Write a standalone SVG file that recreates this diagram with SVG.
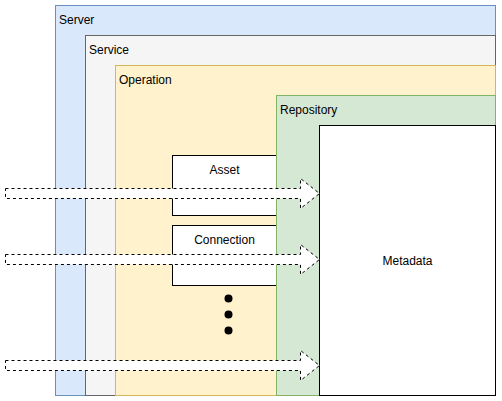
<svg xmlns="http://www.w3.org/2000/svg" width="502" height="401" viewBox="0 0 502 401">
  <style>
    .lbl { font-family: "Liberation Sans", Arial, Helvetica, sans-serif; font-size: 12px; fill: #000; }
    .mid { text-anchor: middle; }
    .box { fill: #ffffff; stroke: #000000; stroke-width: 1; }
    .flow { fill: #ffffff; stroke: #000000; stroke-width: 1; stroke-dasharray: 3 3; stroke-linejoin: miter; }
  </style>
  <rect width="502" height="401" fill="#ffffff"/>

  <g id="server">
    <rect x="55.5" y="5.5" width="440" height="390" fill="#dae8fc" stroke="#6c8ebf"/>
    <text class="lbl" x="59" y="24">Server</text>
  </g>
  <g id="service">
    <rect x="85.5" y="35.5" width="410" height="360" fill="#f5f5f5" stroke="#666666"/>
    <text class="lbl" x="89" y="54">Service</text>
  </g>
  <g id="operation">
    <rect x="115.5" y="65.5" width="380" height="330" fill="#fff2cc" stroke="#d6b656"/>
    <text class="lbl" x="119" y="84">Operation</text>
  </g>
  <g id="asset">
    <rect class="box" x="172.5" y="155.5" width="110" height="60"/>
    <text class="lbl mid" x="224.5" y="174">Asset</text>
  </g>
  <g id="connection">
    <rect class="box" x="172.5" y="225.5" width="110" height="60"/>
    <text class="lbl mid" x="224.5" y="244">Connection</text>
  </g>
  <g id="more">
    <circle cx="228.5" cy="298.5" r="4" fill="#000"/>
    <circle cx="228.5" cy="314.5" r="4" fill="#000"/>
    <circle cx="228.5" cy="330.5" r="4" fill="#000"/>
  </g>
  <g id="repository">
    <rect x="276.5" y="95.5" width="219" height="300" fill="#d5e8d4" stroke="#82b366"/>
    <text class="lbl" x="280" y="114">Repository</text>
  </g>
  <g id="metadata">
    <rect class="box" x="319.5" y="125.5" width="176" height="270"/>
    <text class="lbl mid" x="407.5" y="265">Metadata</text>
  </g>

  <g id="connectors">
    <path class="flow" d="M5.5 188.5 H300.5 V178.5 L319.5 193.5 L300.5 208.5 V198.5 H5.5 Z"/>
    <path class="flow" d="M5.5 254.5 H300.5 V244.5 L319.5 259.5 L300.5 274.5 V264.5 H5.5 Z"/>
    <path class="flow" d="M5.5 360.5 H300.5 V350.5 L319.5 365.5 L300.5 380.5 V370.5 H5.5 Z"/>
  </g>
</svg>
